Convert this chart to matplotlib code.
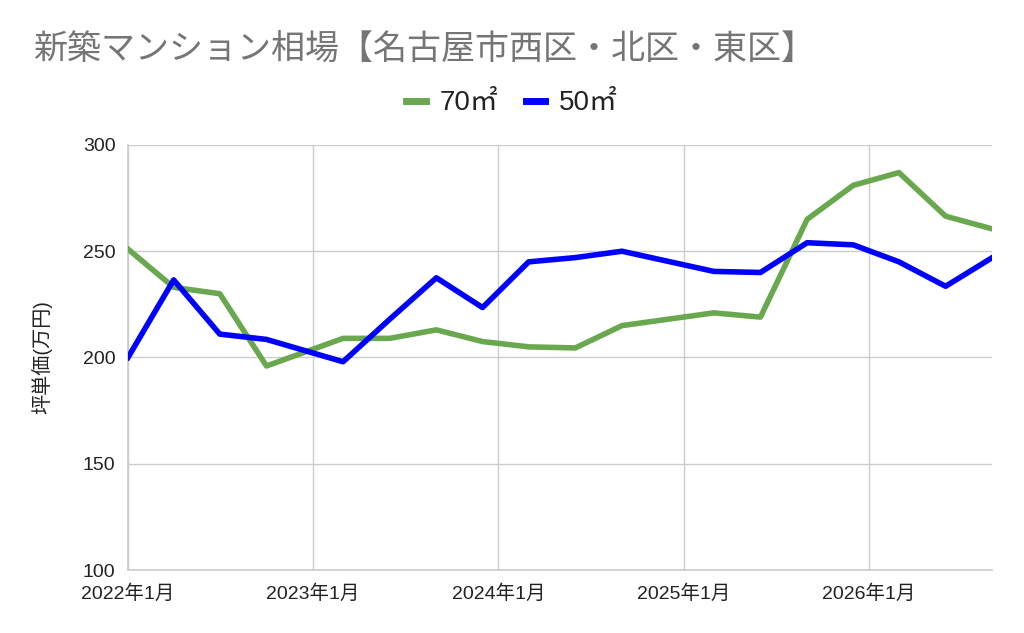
import matplotlib
matplotlib.use("Agg")
import matplotlib.pyplot as plt
import pandas as pd

plt.rcParams['font.family'] = ['Liberation Sans', 'Noto Sans CJK JP', 'DejaVu Sans']

title = "新築マンション相場【名古屋市西区・北区・東区】"
y_label = "坪単価(万円)"
series_names = ["70㎡", "50㎡"]

dates = pd.to_datetime([
    "2022-01-01", "2022-04-01", "2022-07-01", "2022-10-01",
    "2023-03-01", "2023-06-01", "2023-09-01", "2023-12-01",
    "2024-03-01", "2024-06-01", "2024-09-01",
    "2025-03-01", "2025-06-01", "2025-09-01", "2025-12-01",
    "2026-03-01", "2026-06-01", "2026-09-01",
])
values_70 = [251, 233, 230, 196, 209, 209, 213, 207.5, 205, 204.5, 215,
             221, 219, 265, 281, 287, 266.5, 260.5]
values_50 = [200, 236.5, 211, 208.5, 198, 218, 237.5, 223.5, 245, 247, 250,
             240.5, 240, 254, 253, 245, 233.5, 247]

colors = ["#6aa84f", "#0000ff"]
y_ticks = [100, 150, 200, 250, 300]
x_ticks = pd.to_datetime(["2022-01-01", "2023-01-01", "2024-01-01", "2025-01-01", "2026-01-01"])
x_tick_labels = ["2022年1月", "2023年1月", "2024年1月", "2025年1月", "2026年1月"]

fig = plt.figure(figsize=(10.24, 6.33), dpi=100)
ax = fig.add_axes([0.125, 0.0995, 0.844, 0.6715])

ax.plot(dates, values_70, color=colors[0], lw=4.0, label=series_names[0], zorder=3)
ax.plot(dates, values_50, color=colors[1], lw=4.0, label=series_names[1], zorder=4)

ax.set_xlim(pd.Timestamp("2022-01-01"), pd.Timestamp("2026-09-01"))
ax.set_ylim(100, 300)
ax.set_yticks(y_ticks)
ax.set_xticks(x_ticks)
ax.set_xticklabels(x_tick_labels)
ax.grid(True, color="#cccccc", lw=1.0, zorder=0)
ax.tick_params(length=0, labelsize=14, colors="#222222")
ax.tick_params(axis='y', pad=9)
ax.tick_params(axis='x', pad=10)
for s in ["top", "right"]:
    ax.spines[s].set_visible(False)
for s in ["left", "bottom"]:
    ax.spines[s].set_color("#cccccc")
    ax.spines[s].set_linewidth(1.2)

ax.set_ylabel(y_label, fontsize=14.5, color="#222222", labelpad=22)

fig.text(0.032, 0.922, title, fontsize=24.5, color="#757575", ha="left", va="center",
         family=['Noto Sans CJK JP', 'DejaVu Sans'])

leg = fig.legend(loc="center", bbox_to_anchor=(0.5, 0.837), ncol=2, frameon=False,
                 fontsize=20, handlelength=0.7, handleheight=0.5, handletextpad=0.5,
                 columnspacing=1.0)
for h in leg.legend_handles:
    h.set_linewidth(5)
for t in leg.get_texts():
    t.set_color("#222222")

fig.savefig("out.png", dpi=100)
